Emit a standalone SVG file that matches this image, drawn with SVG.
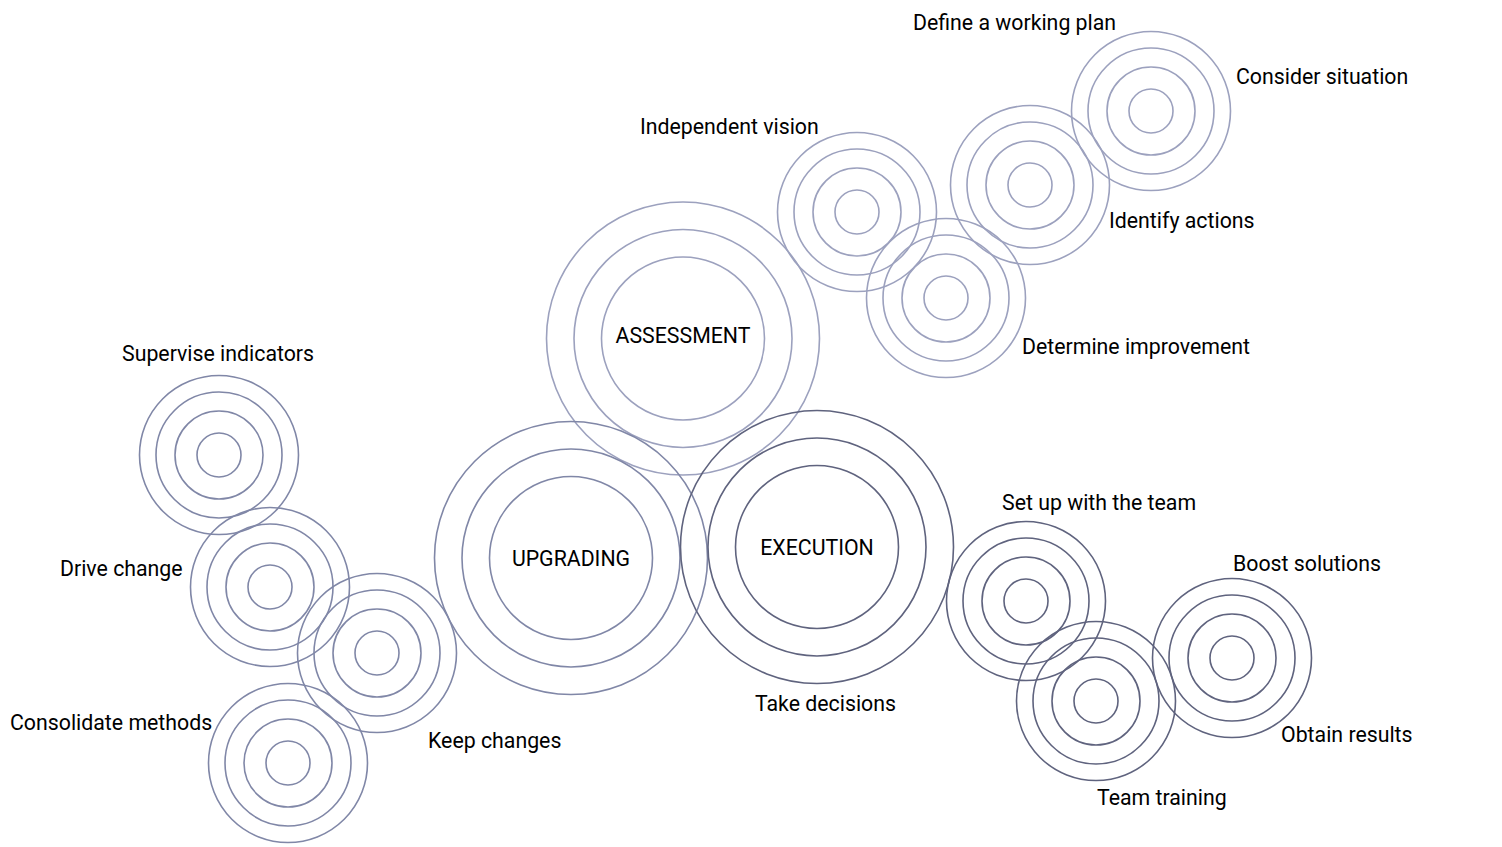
<svg xmlns="http://www.w3.org/2000/svg" width="1502" height="847" viewBox="0 0 1502 847">
<defs>
<style>
circle{fill:none;stroke-width:1.6}
.a{stroke:#9ca1be}
.u{stroke:#8087a7}
.e{stroke:#5f637e}
text{font-family:Roboto,"Liberation Sans",sans-serif;font-size:21.3px;fill:#000;stroke:none}
.c{text-anchor:middle}
</style>
<g id="ring-big"><circle r="136.5"/><circle r="109"/><circle r="81.5"/></g>
<g id="ring-small"><circle r="79.5"/><circle r="63"/><circle r="44"/><circle r="22"/></g>
</defs>
<rect width="1502" height="847" fill="#fff"/>
<g id="connectors"></g>
<g class="a">
<g id="assessment"><use href="#ring-big" x="683" y="338.5"/><text class="c" x="683" y="343">ASSESSMENT</text></g>
<g id="independent-vision"><use href="#ring-small" x="857" y="212"/><text x="640" y="134">Independent vision</text></g>
<g id="determine-improvement"><use href="#ring-small" x="946" y="298"/><text x="1022" y="354">Determine improvement</text></g>
<g id="identify-actions"><use href="#ring-small" x="1030" y="185"/><text x="1109" y="228">Identify actions</text></g>
<g id="consider-situation"><use href="#ring-small" x="1151" y="111"/><text x="1236" y="84">Consider situation</text><text x="913" y="30">Define a working plan</text></g>
</g>
<g class="u">
<g id="upgrading"><use href="#ring-big" x="571" y="558"/><text class="c" x="571" y="566">UPGRADING</text></g>
<g id="supervise-indicators"><use href="#ring-small" x="219" y="455"/><text x="122" y="361">Supervise indicators</text></g>
<g id="drive-change"><use href="#ring-small" x="270" y="587"/><text x="60" y="576">Drive change</text></g>
<g id="keep-changes"><use href="#ring-small" x="377" y="653"/><text x="428" y="748">Keep changes</text></g>
<g id="consolidate-methods"><use href="#ring-small" x="288" y="763"/><text x="10" y="730">Consolidate methods</text></g>
</g>
<g class="e">
<g id="execution"><use href="#ring-big" x="817" y="547"/><text class="c" x="817" y="555">EXECUTION</text><text x="755" y="711">Take decisions</text></g>
<g id="set-up-team"><use href="#ring-small" x="1026" y="601"/><text x="1002" y="510">Set up with the team</text></g>
<g id="team-training"><use href="#ring-small" x="1096" y="701"/><text x="1097" y="805">Team training</text></g>
<g id="boost-solutions"><use href="#ring-small" x="1232" y="658"/><text x="1233" y="571">Boost solutions</text><text x="1281" y="742">Obtain results</text></g>
</g>
</svg>
